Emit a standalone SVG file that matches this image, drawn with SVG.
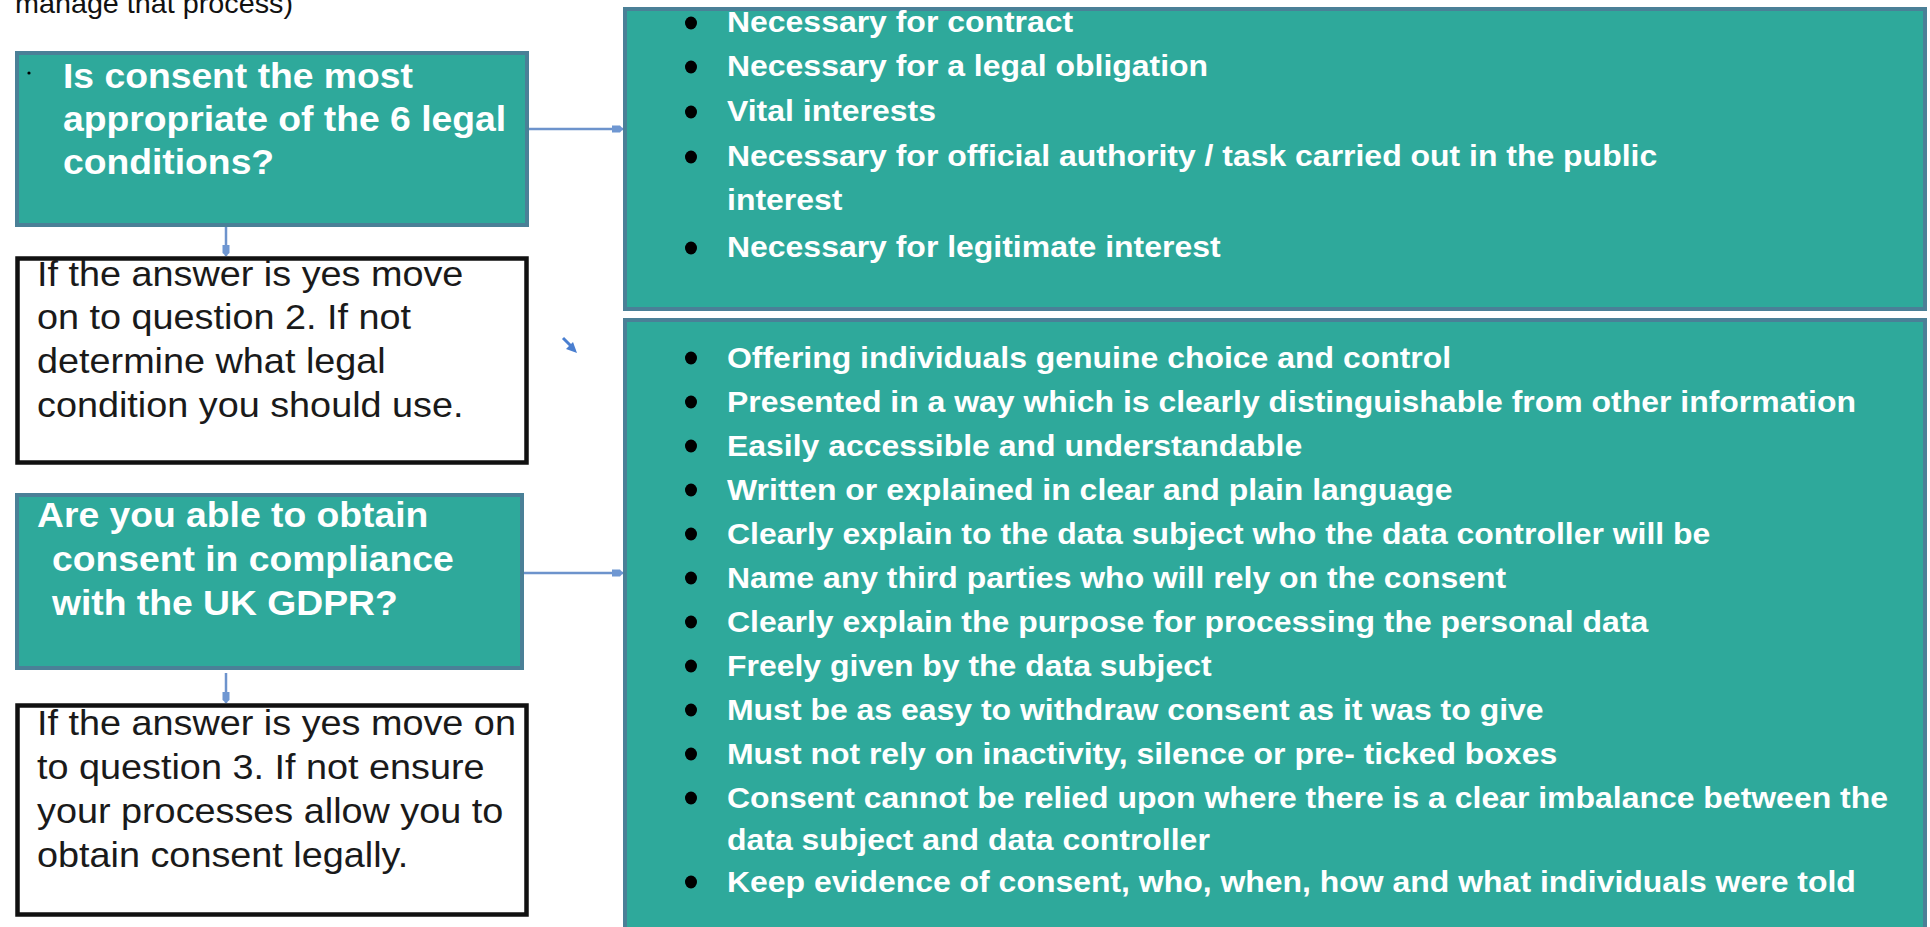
<svg xmlns="http://www.w3.org/2000/svg" width="1930" height="927" viewBox="0 0 1930 927">
<style>
.q{fill:#2ea99b;stroke:#4a8097;stroke-width:4}
.w{fill:#ffffff;stroke:#111111;stroke-width:4.5}
.qt{font-family:"Liberation Sans",Arial,sans-serif;font-weight:bold;font-size:35px;fill:#ffffff}
.wt{font-family:"Liberation Sans",Arial,sans-serif;font-size:35.5px;fill:#1a1a1a}
.lt{font-family:"Liberation Sans",Arial,sans-serif;font-weight:bold;font-size:30px;fill:#ffffff}
.top{font-family:"Liberation Sans",Arial,sans-serif;font-size:27px;fill:#111111}
.con{stroke:#6d93cc;stroke-width:2.5;fill:none}
</style>
<defs>
<marker id="ah" markerWidth="12" markerHeight="8" refX="11" refY="4" orient="auto" markerUnits="userSpaceOnUse">
<path d="M0,0.5 L8,0.5 L11,4 L8,7.5 L0,7.5 Z" fill="#6f97d2"/>
</marker>
</defs>
<rect width="1930" height="927" fill="#ffffff"/>

<g id="top-text">
<text class="top" transform="translate(15,13) scale(1.065,1)">manage that process)</text>
</g>

<g id="q1">
<rect class="q" x="17" y="53" width="510" height="172"/>
<circle cx="29" cy="73" r="1.6" fill="#000000"/>
<g transform="translate(63,0) scale(1.065,1)">
<text class="qt" x="0" y="88">Is consent the most</text>
<text class="qt" x="0" y="131">appropriate of the 6 legal</text>
<text class="qt" x="0" y="174">conditions?</text>
</g>
</g>

<g id="a1">
<rect class="w" x="17.5" y="258.5" width="509" height="204"/>
<g transform="translate(37,0) scale(1.065,1)">
<text class="wt" x="0" y="286">If the answer is yes move</text>
<text class="wt" x="0" y="329">on to question 2. If not</text>
<text class="wt" x="0" y="373">determine what legal</text>
<text class="wt" x="0" y="417">condition you should use.</text>
</g>
</g>

<g id="q2">
<rect class="q" x="17" y="495" width="505" height="173"/>
<g transform="translate(37,0) scale(1.065,1)">
<text class="qt" x="0" y="527">Are you able to obtain</text>
</g>
<g transform="translate(52,0) scale(1.065,1)">
<text class="qt" x="0" y="571">consent in compliance</text>
<text class="qt" x="0" y="615">with the UK GDPR?</text>
</g>
</g>

<g id="a2">
<rect class="w" x="17.5" y="705.5" width="509" height="209"/>
<g transform="translate(37,0) scale(1.065,1)">
<text class="wt" x="0" y="735">If the answer is yes move on</text>
<text class="wt" x="0" y="779">to question 3. If not ensure</text>
<text class="wt" x="0" y="823">your processes allow you to</text>
<text class="wt" x="0" y="867">obtain consent legally.</text>
</g>
</g>

<g id="conditions">
<rect class="q" x="625" y="9" width="1300" height="300"/>
<g fill="#000000">
<ellipse cx="691" cy="23" rx="6" ry="6.5"/>
<ellipse cx="691" cy="67" rx="6" ry="6.5"/>
<ellipse cx="691" cy="112" rx="6" ry="6.5"/>
<ellipse cx="691" cy="157" rx="6" ry="6.5"/>
<ellipse cx="691" cy="248" rx="6" ry="6.5"/>
</g>
<g transform="translate(727,0) scale(1.065,1)">
<text class="lt" x="0" y="32">Necessary for contract</text>
<text class="lt" x="0" y="76">Necessary for a legal obligation</text>
<text class="lt" x="0" y="121">Vital interests</text>
<text class="lt" x="0" y="166">Necessary for official authority / task carried out in the public</text>
<text class="lt" x="0" y="210">interest</text>
<text class="lt" x="0" y="257">Necessary for legitimate interest</text>
</g>
</g>

<g id="requirements">
<rect class="q" x="625" y="320" width="1300" height="640"/>
<g fill="#000000">
<ellipse cx="691" cy="358" rx="6" ry="6.5"/>
<ellipse cx="691" cy="402" rx="6" ry="6.5"/>
<ellipse cx="691" cy="446" rx="6" ry="6.5"/>
<ellipse cx="691" cy="490" rx="6" ry="6.5"/>
<ellipse cx="691" cy="534" rx="6" ry="6.5"/>
<ellipse cx="691" cy="578" rx="6" ry="6.5"/>
<ellipse cx="691" cy="622" rx="6" ry="6.5"/>
<ellipse cx="691" cy="666" rx="6" ry="6.5"/>
<ellipse cx="691" cy="710" rx="6" ry="6.5"/>
<ellipse cx="691" cy="754" rx="6" ry="6.5"/>
<ellipse cx="691" cy="798" rx="6" ry="6.5"/>
<ellipse cx="691" cy="882" rx="6" ry="6.5"/>
</g>
<g transform="translate(727,0) scale(1.065,1)">
<text class="lt" x="0" y="368">Offering individuals genuine choice and control</text>
<text class="lt" x="0" y="412">Presented in a way which is clearly distinguishable from other information</text>
<text class="lt" x="0" y="456">Easily accessible and understandable</text>
<text class="lt" x="0" y="500">Written or explained in clear and plain language</text>
<text class="lt" x="0" y="544">Clearly explain to the data subject who the data controller will be</text>
<text class="lt" x="0" y="588">Name any third parties who will rely on the consent</text>
<text class="lt" x="0" y="632">Clearly explain the purpose for processing the personal data</text>
<text class="lt" x="0" y="676">Freely given by the data subject</text>
<text class="lt" x="0" y="720">Must be as easy to withdraw consent as it was to give</text>
<text class="lt" x="0" y="764">Must not rely on inactivity, silence or pre- ticked boxes</text>
<text class="lt" x="0" y="808">Consent cannot be relied upon where there is a clear imbalance between the</text>
<text class="lt" x="0" y="850">data subject and data controller</text>
<text class="lt" x="0" y="892">Keep evidence of consent, who, when, how and what individuals were told</text>
</g>
</g>

<g id="connectors">
<line class="con" x1="529" y1="129" x2="623" y2="129" marker-end="url(#ah)"/>
<line class="con" x1="524" y1="573" x2="623" y2="573" marker-end="url(#ah)"/>
<line class="con" x1="226" y1="227" x2="226" y2="256" marker-end="url(#ah)"/>
<line class="con" x1="226" y1="673" x2="226" y2="703" marker-end="url(#ah)"/>
<line x1="563" y1="338" x2="571" y2="346" stroke="#4a7fd0" stroke-width="3"/>
<path d="M577,353 L566,349 L573,342 Z" fill="#4a7fd0"/>
</g>
</svg>
